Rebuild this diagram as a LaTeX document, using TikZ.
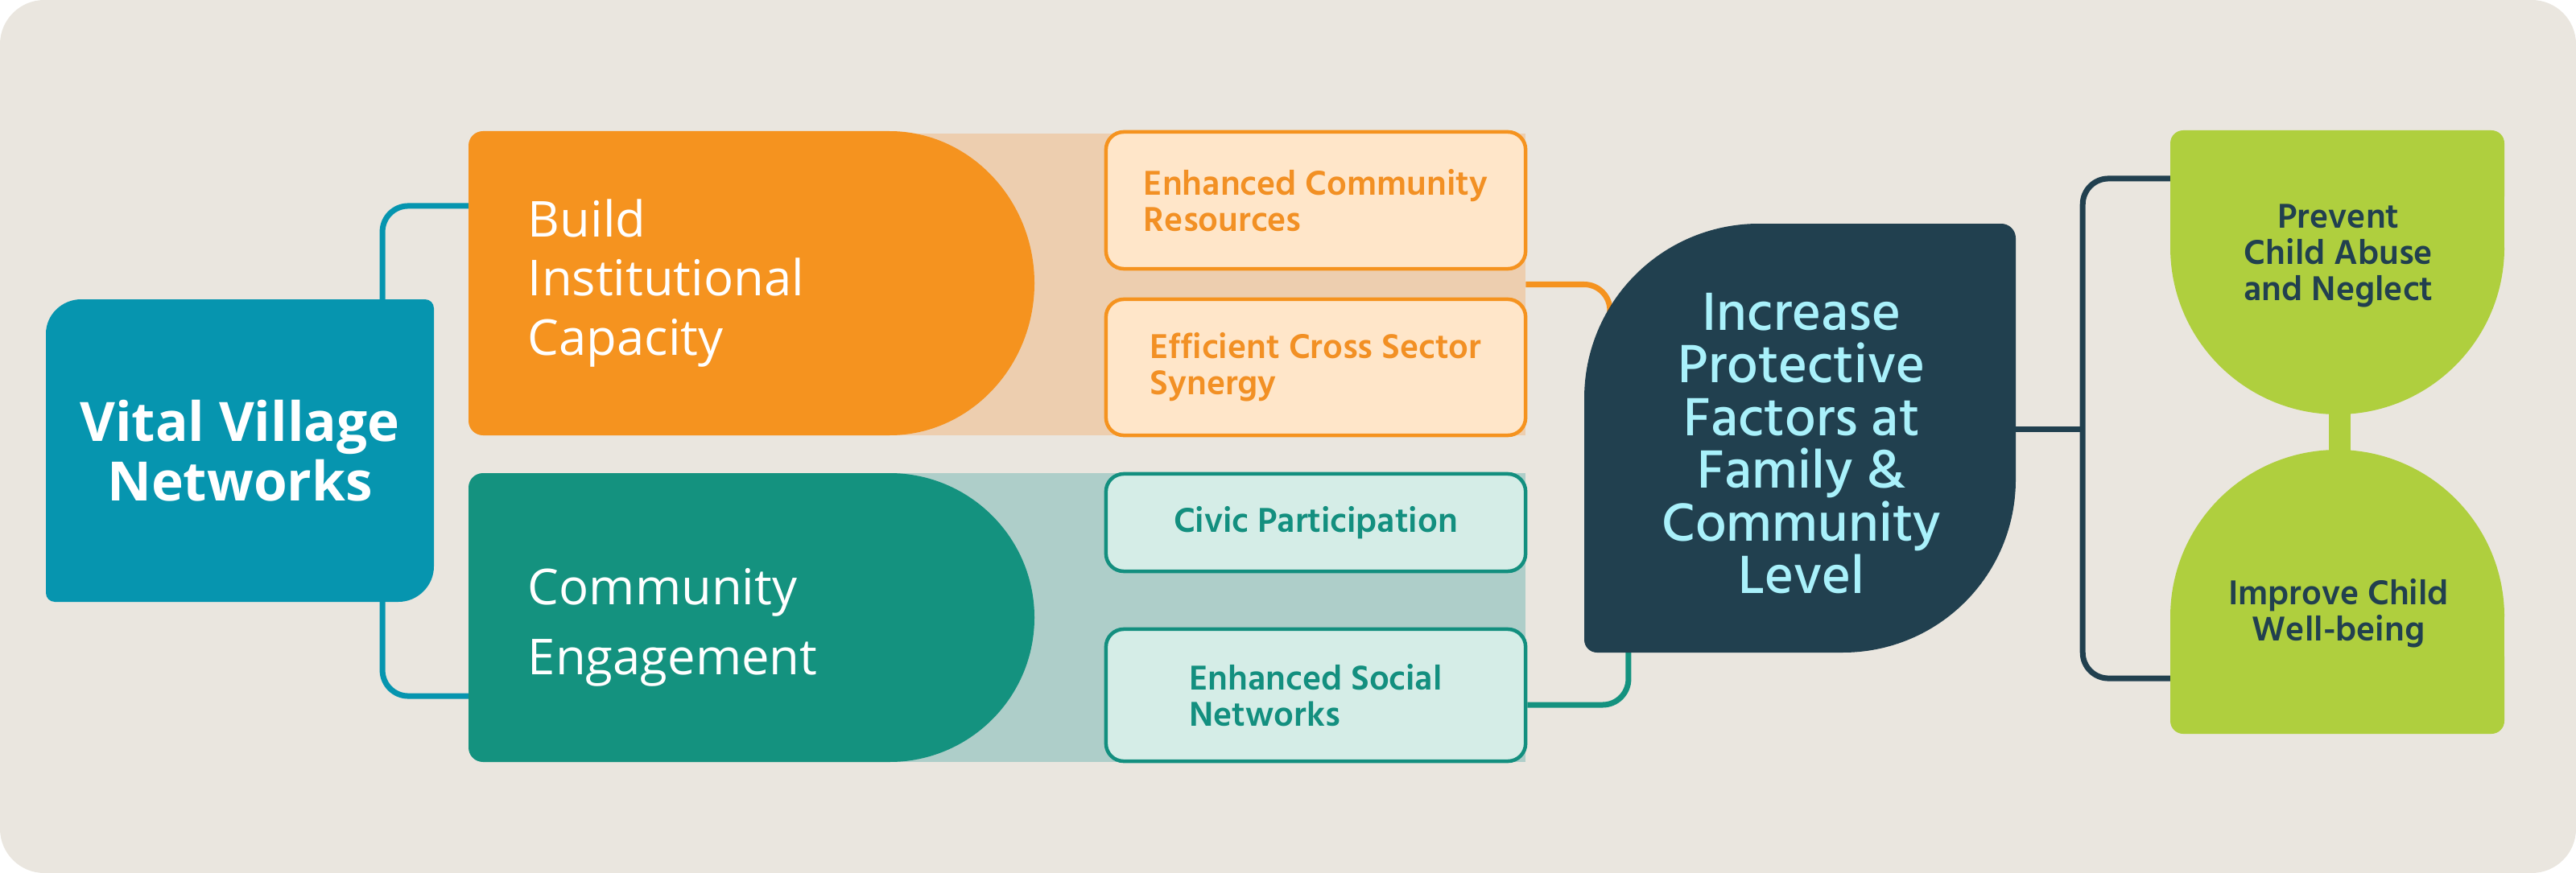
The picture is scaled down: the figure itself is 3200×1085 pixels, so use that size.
\documentclass[tikz,border=0pt]{standalone}
\usepackage{fontspec}
\usepackage{tikz}
\newfontfamily\labelfont{Open Sans}
\newfontfamily\boxfont{Hind Madurai SemiBold}
\newfontfamily\leaffont{Hind Madurai Medium}

\definecolor{bgcol}{HTML}{EAE6DF}
\definecolor{vvnblue}{HTML}{0695AF}
\definecolor{orangeM}{HTML}{F5931F}
\definecolor{orangeBand}{HTML}{EDCEAF}
\definecolor{orangeSub}{HTML}{FFE6C9}
\definecolor{orangeTxt}{HTML}{F29024}
\definecolor{tealM}{HTML}{14927F}
\definecolor{tealBand}{HTML}{AECEC9}
\definecolor{tealSub}{HTML}{D5EDE7}
\definecolor{tealTxt}{HTML}{138F7F}
\definecolor{darkM}{HTML}{21404F}
\definecolor{darkTxt}{HTML}{A9F1FB}
\definecolor{greenM}{HTML}{AFCF3E}

\pgfdeclarelayer{canvas}
\pgfdeclarelayer{links}
\pgfsetlayers{canvas,links,main}

\tikzset{
  frame/.style={inner sep=0pt, outer sep=0pt},
  strategy/.style={frame, text=white, align=left, inner xsep=0.74cm, text width=5.55cm, minimum width=7.03cm},
  subbox/.style={draw, rounded corners=0.22cm, line width=0.045cm, minimum width=5.21cm, inner sep=0pt, align=left, font=\boxfont\fontsize{12.5}{12.8}\selectfont},
  orangebox/.style={subbox, draw=orangeM, fill=orangeSub, text=orangeTxt},
  tealbox/.style={subbox, draw=tealTxt, fill=tealSub, text=tealTxt},
  greentxt/.style={frame, align=center, text=darkM, font=\boxfont\fontsize{12.5}{12.9}\selectfont},
  link/.style={line width=0.07cm, rounded corners=0.32cm},
}

\begin{document}
\begin{tikzpicture}[x=0.01cm, y=-0.01cm]
    \useasboundingbox (0,0) rectangle (3200,1085);
    \begin{pgfonlayer}{canvas}
    \fill[bgcol, rounded corners=0.55cm] (0,0) rectangle (3200,1085);
    \end{pgfonlayer}

    % Vital Village Networks
    \fill[vvnblue] (57,415) .. controls (57,391) and (77,372) .. (101,372) -- (528,372) .. controls (534,372) and (539,377) .. (539,383) -- (539,704) .. controls (539,728) and (519,748) .. (495,748) -- (68,748) .. controls (62,748) and (57,743) .. (57,737) -- cycle;
    \node[frame, minimum width=4.82cm, minimum height=3.76cm, align=center, text=white,
      font=\labelfont\bfseries\fontsize{19.2}{21.1}\selectfont] (vvn) at (298,560) {Vital Village\\Networks};

    % bands behind the outcome boxes
    \fill[orangeBand] (1000,166) rectangle (1895,541);
    \fill[tealBand] (1000,588) rectangle (1895,947);
    \node[frame, minimum width=8.95cm, minimum height=3.75cm] (bandO) at (1447.5,353.5) {};

    % Build Institutional Capacity
    \fill[orangeM] (600,163) -- (1105,163) .. controls (1204,163) and (1285,248) .. (1285,352) .. controls (1285,456) and (1204,541) .. (1105,541) -- (600,541) .. controls (590,541) and (582,533) .. (582,523) -- (582,181) .. controls (582,171) and (590,163) .. (600,163) -- cycle;
    \node[strategy, minimum height=3.78cm, font=\labelfont\fontsize{17.5}{20.8}\selectfont] (build) at (933.5,352) {Build\\Institutional\\Capacity};

    % Community Engagement
    \fill[tealM] (600,588) -- (1105,588) .. controls (1204,588) and (1285,668) .. (1285,767.5) .. controls (1285,867) and (1204,947) .. (1105,947) -- (600,947) .. controls (590,947) and (582,939) .. (582,929) -- (582,606) .. controls (582,596) and (590,588) .. (600,588) -- cycle;
    \node[strategy, minimum height=3.59cm, font=\labelfont\fontsize{17.5}{24.8}\selectfont] (comm) at (933.5,779.5) {Community\\Engagement};

    % outcome boxes
    \node[orangebox, minimum height=1.70cm] (resources) at (1634.5,249) {Enhanced Community\\Resources};
    \node[orangebox, minimum height=1.69cm] (synergy) at (1634.5,456.5) {Efficient Cross Sector\\Synergy};
    \node[tealbox, minimum height=1.21cm] (civic) at (1634.5,649.5) {Civic Participation};
    \node[tealbox, minimum height=1.64cm] (network) at (1634.5,864) {Enhanced Social\\Networks};

    % Increase Protective Factors
    \fill[darkM] (1968,495) .. controls (1968,375) and (2065,278) .. (2185,278) -- (2486,278) .. controls (2496,278) and (2504,286) .. (2504,296) -- (2504,596) .. controls (2504,715) and (2408,811) .. (2289,811) -- (1984,811) .. controls (1975,811) and (1968,804) .. (1968,795) -- cycle;
    \node[frame, minimum width=5.36cm, minimum height=5.33cm] (protect) at (2236,544.5) {};
    \node[frame, align=center, text=darkTxt, font=\leaffont\fontsize{19.5}{18.6}\selectfont] (protecttxt) at (2238,551) {Increase\\Protective\\Factors at\\Family \&\\Community\\Level};

    % Prevent Child Abuse
    \fill[greenM, rounded corners=0.16cm] (2696,162) rectangle (3111,260);
    \fill[greenM] (2696,230) rectangle (3111,308);
    \fill[greenM] (2696,307.5) .. controls (2696,422) and (2789,515) .. (2903.5,515) .. controls (3018,515) and (3111,422) .. (3111,307.5) -- cycle;
    \node[frame, minimum width=4.15cm, minimum height=3.53cm] (prevent) at (2903.5,338.5) {};
    \node[greentxt] (preventtxt) at (2905,318) {Prevent\\Child Abuse\\and Neglect};

    % Improve Child Well-being
    \fill[greenM] (2893,500) rectangle (2920,575);
    \fill[greenM] (2696,766.5) .. controls (2696,652) and (2789,559) .. (2903.5,559) .. controls (3018,559) and (3111,652) .. (3111,766.5) -- cycle;
    \fill[greenM] (2696,766) rectangle (3111,850);
    \fill[greenM, rounded corners=0.16cm] (2696,800) rectangle (3111,912);
    \node[frame, minimum width=4.15cm, minimum height=3.53cm] (improve) at (2903.5,735.5) {};
    \node[greentxt] (improvetxt) at (2905,762) {Improve Child\\Well-being};

    \begin{pgfonlayer}{links}
    % VVN to strategies
    \draw[link, vvnblue] ([xshift=-0.64cm]vvn.north east) |- ([yshift=-0.93cm]build.north west);
    \draw[link, vvnblue] ([xshift=-0.64cm]vvn.south east) |- ([yshift=0.94cm]comm.south west);

    % outcomes to protective factors
    \draw[link, orangeM] (bandO.east) -| ([xshift=0.32cm]protect.west);
    \draw[link, tealM] ([yshift=-0.12cm]network.east) -| ([xshift=0.55cm]protect.south west);

    % protective factors to the two goals
    \draw[link, darkM] ([yshift=-0.6cm]prevent.north west) -| ([xshift=0.83cm]protect.east) |- ([yshift=0.69cm]improve.south west);
    \draw[link, darkM] ([yshift=0.11cm]protect.east) -- ++(83,0);
    \end{pgfonlayer}
\end{tikzpicture}
\end{document}
